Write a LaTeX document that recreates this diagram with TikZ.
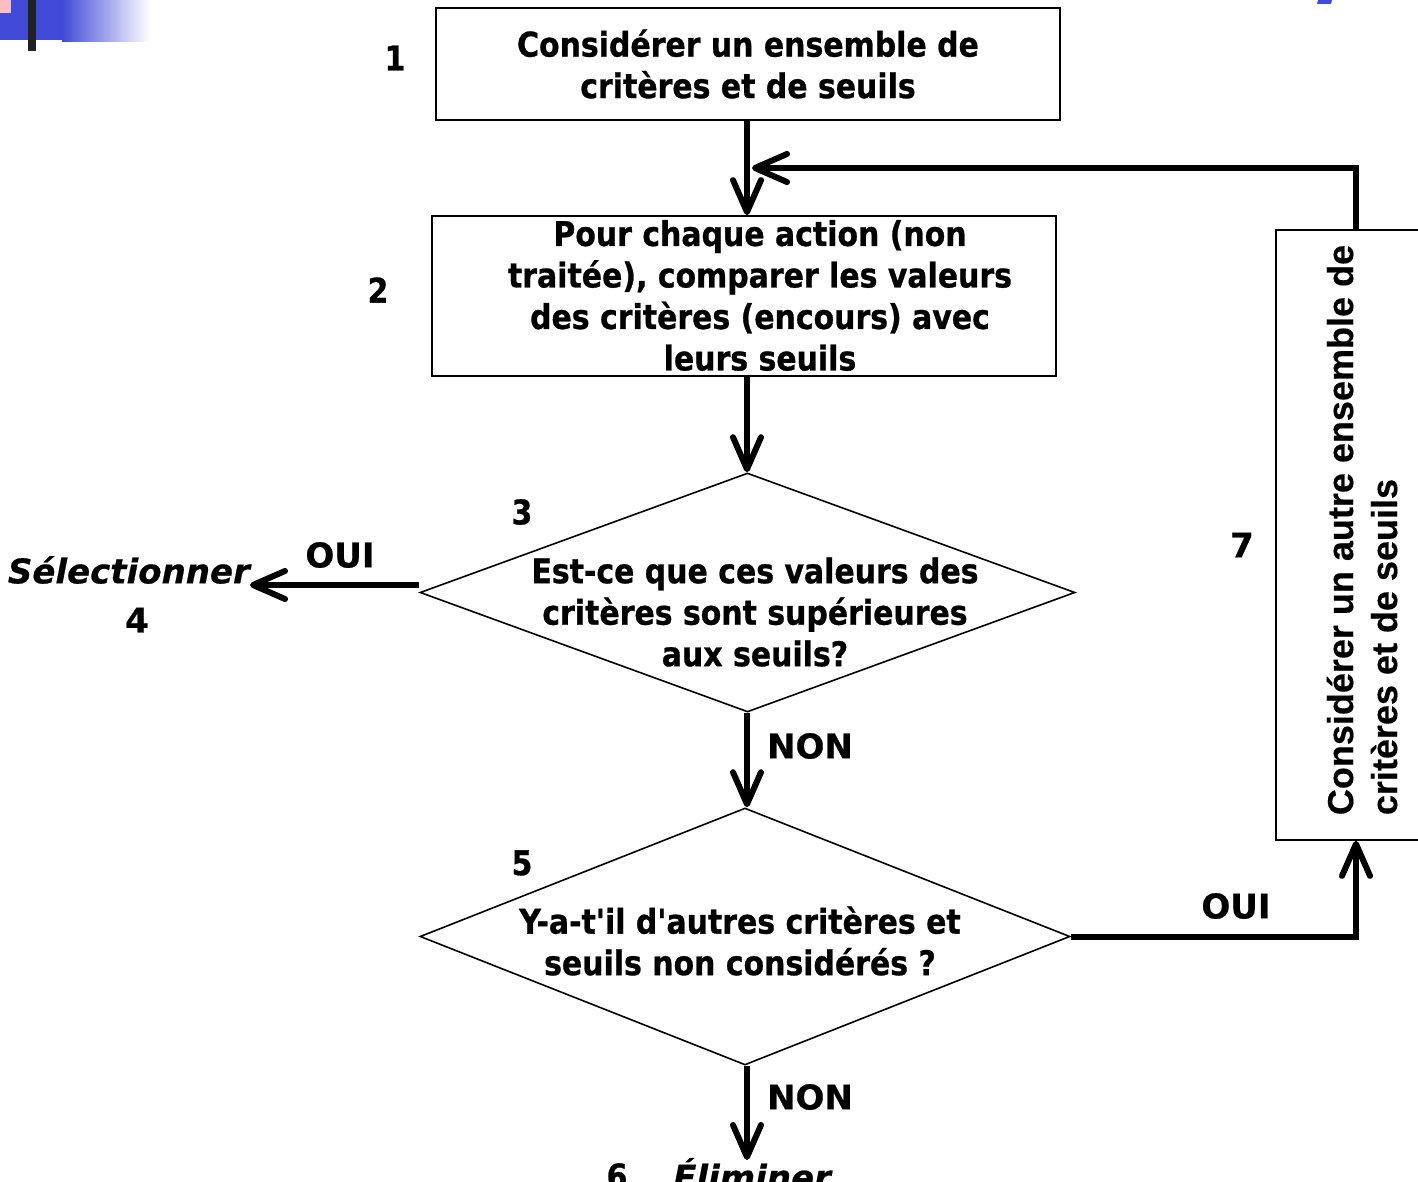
\documentclass[tikz,border=0pt]{standalone}
\usepackage{fontspec}
\usetikzlibrary{shapes.geometric,arrows.meta,calc}
\newfontfamily\cond{DejaVu Sans Bold}[FakeStretch=0.88,FakeBold=0.8]
\newfontfamily\verd{DejaVu Sans Bold}[FakeBold=0.6]
\newfontfamily\verdit{DejaVu Sans Bold Oblique}[FakeBold=0.6]
\newfontfamily\arialb{Liberation Sans Bold}[FakeBold=0.4]
\definecolor{slideblue}{RGB}{65,75,215}
\definecolor{slidepink}{RGB}{255,190,190}
\definecolor{slidebar}{RGB}{34,34,34}
\tikzset{
  boxtext/.style={font=\cond\fontsize{34}{41.5}\selectfont, align=center, inner sep=0pt},
  lbl/.style={font=\verd\fontsize{34}{41}\selectfont, inner sep=0pt},
  numlbl/.style={font=\cond\fontsize{34}{41}\selectfont, inner sep=0pt},
  stepbox/.style={draw, line width=1.8pt, rectangle, inner sep=0pt},
  decision/.style={draw, line width=1.6pt, shape=diamond, inner sep=0pt},
  arr/.style={line width=6pt, -{Straight Barb[length=32pt, width=28pt, round]}},
}
\begin{document}
\begin{tikzpicture}[x=1pt,y=-1pt]
\useasboundingbox (0,0) rectangle (1418,1182);
\clip (0,0) rectangle (1418,1182);
\fill[white] (0,0) rectangle (1418,1182);
% slide decoration
\shade[left color=slideblue, right color=white] (62,0) rectangle (150,42);
\fill[slideblue] (0,0) rectangle (63,40);
\fill[slidepink] (0,0) rectangle (11,13);
\fill[slidebar] (28,0) rectangle (36,51);
\fill[slideblue] (1318,0) -- (1332,0) -- (1331,4) -- (1317,4) -- cycle;

% shapes
\node[stepbox, minimum width=624pt, minimum height=112pt, boxtext] (b1) at (748,64)
  {Considérer un ensemble de\\critères et de seuils};
\node[stepbox, minimum width=624pt, minimum height=160pt] (b2) at (744,296) {};
\node[boxtext] (t2) at (760,295.5)
  {Pour chaque action (non\\traitée), comparer les valeurs\\des critères (encours) avec\\leurs seuils};
\node[decision, minimum width=655pt, minimum height=239pt] (d3) at (747.5,592.5) {};
\node[boxtext] (t3) at (755,612)
  {Est-ce que ces valeurs des\\critères sont supérieures\\aux seuils?};
\node[decision, minimum width=650pt, minimum height=257pt] (d5) at (745,936.5) {};
\node[boxtext] (t5) at (740,941)
  {Y-a-t'il d'autres critères et\\seuils non considérés ?};
\node[stepbox, minimum width=160pt, minimum height=610pt] (b7) at (1356,535) {};
\node[rotate=90, align=left, inner sep=0pt, font=\arialb\fontsize{36}{44}\selectfont] (t7) at (1362,530)
  {Considérer un autre ensemble de\\critères et de seuils};

% outcome texts
\node[font=\verdit\fontsize{34}{41}\selectfont, inner sep=0pt, anchor=east] (sel) at (250,570) {Sélectionner};
\node[lbl] (n4) at (137,620) {4};
\node[numlbl] (n6) at (617,1176) {6};
\node[font=\verdit\fontsize{34}{41}\selectfont, inner sep=0pt] (elim) at (752,1174) {Éliminer};
\coordinate (e6) at (747,1160);
\coordinate (fb) at (752,168);
\coordinate (vx) at (747,0);

% step numbers
\node[numlbl] (n1) at (395,58) {1};
\node[numlbl] (n2) at (378,290) {2};
\node[numlbl] (n3) at (522,512) {3};
\node[numlbl] (n5) at (522,863) {5};
\node[lbl] (n7) at (1242,545) {7};

% connectors
\draw[arr] (vx |- b1.south) -- (vx |- b2.north);
\draw[arr] (vx |- b2.south) -- (vx |- d3.north);
\draw[arr] (d3.west |- 0,585) -- (sel.east |- 0,585);
\draw[arr] (vx |- d3.south) -- (vx |- d5.north);
\draw[arr] (vx |- d5.south) -- (e6);
\draw[arr] (d5.east) -| (b7.south);
\draw[arr] (b7.north) |- (fb);

% connector labels
\node[lbl] (oui1) at (340,555) {OUI};
\node[lbl] (non1) at (810,746) {NON};
\node[lbl] (oui2) at (1236,906) {OUI};
\node[lbl] (non2) at (810,1097) {NON};
\end{tikzpicture}
\end{document}
